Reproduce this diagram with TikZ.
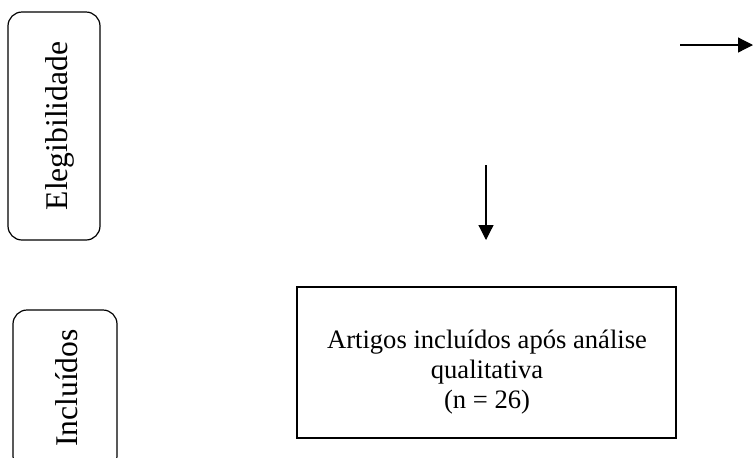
\documentclass[tikz,border=0pt]{standalone}
\usepackage{fontspec}
\setmainfont{Liberation Serif}
\usetikzlibrary{arrows.meta,positioning}

\begin{document}
\begin{tikzpicture}[x=0.5pt, y=-0.5pt,
    sidebox/.style={draw, line width=0.6pt, rounded corners=7pt, inner sep=0pt},
    sidetext/.style={rotate=90, font=\fontsize{15.8}{18}\selectfont, inner sep=0pt},
    mainbox/.style={draw, line width=0.8pt, inner sep=0pt,
      minimum width=189.5pt, minimum height=75.5pt},
    maintext/.style={align=center, font=\fontsize{13.3}{15}\selectfont},
    flow/.style={-{Triangle[length=7.5pt, width=7.5pt]}, line width=0.6pt}]
  \useasboundingbox (0,0) rectangle (753,457);
  \clip (0,0) rectangle (753,457);
  % stage labels on the left
  \node[sidebox, minimum width=46pt, minimum height=114pt] (elegib) at (54,126) {};
  \node[sidetext] (elegibtxt) at (60,126) {Elegibilidade};
  \node[sidebox, minimum width=52pt, minimum height=80pt] (incl) at (65,390) {};
  \node[sidetext] (incltxt) at (67,388) {Incluídos};
  % included articles
  \node[mainbox] (artigos) at (486.5,362.5) {};
  \node[maintext] (artigostxt) at (487,372)
    {Artigos incluídos após análise\\qualitativa\\(n = 26)};
  % arrows
  \coordinate (downtop) at (486,165);
  \coordinate (downend) at (486,240);
  \coordinate (rightstart) at (680,45);
  \coordinate (rightend) at (753,45);
  \draw[flow] (downtop) -- (downend);
  \draw[flow] (rightstart) -- (rightend);
\end{tikzpicture}
\end{document}
